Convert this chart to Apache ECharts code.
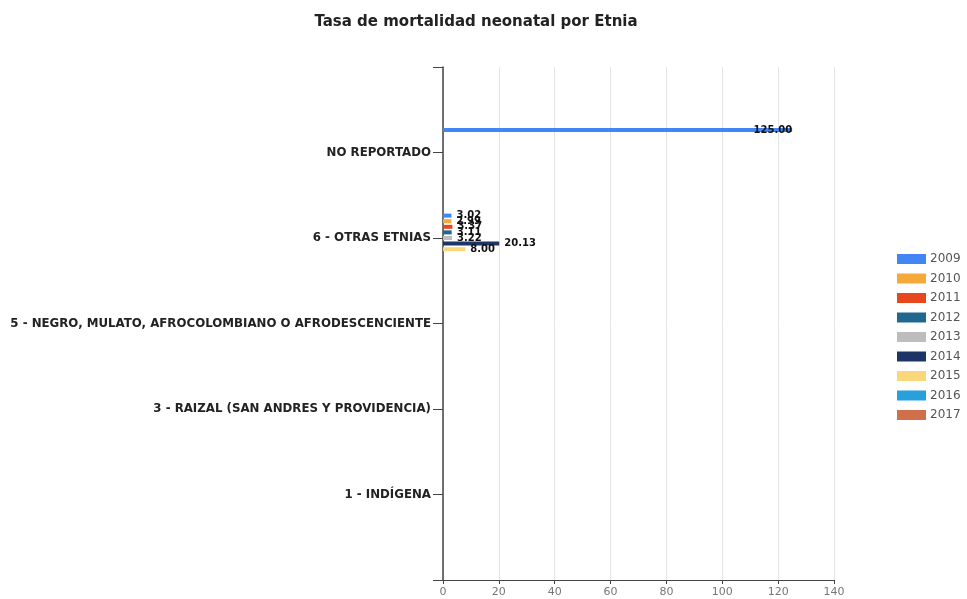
<!DOCTYPE html>
<html>
<head>
<meta charset="utf-8">
<script src="https://cdn.jsdelivr.net/npm/echarts@6/dist/echarts.min.js"></script>
<style>html,body{margin:0;padding:0;background:#fff}#c{width:967px;height:599px}</style>
</head>
<body>
<div id="c"></div>
<script>
const categories = ['', '1 - INDÍGENA', '3 - RAIZAL (SAN ANDRES Y PROVIDENCIA)', '5 - NEGRO, MULATO, AFROCOLOMBIANO O AFRODESCENCIENTE', '6 - OTRAS ETNIAS', 'NO REPORTADO', ''];
const years = ['2009', '2010', '2011', '2012', '2013', '2014', '2015', '2016', '2017'];
const colors = ['#4285f4', '#f4a938', '#e8461c', '#1f6890', '#bdbdbd', '#1c3466', '#f9d77a', '#28a0dc', '#d0704a'];
const xTicks = [0, 20, 40, 60, 80, 100, 120, 140];
// values per year, aligned with categories
const v2009 = [null, null, null, null, 3.02, 125.00, null];
const v2010 = [null, null, null, null, 2.99, null, null];
const v2011 = [null, null, null, null, 3.37, null, null];
const v2012 = [null, null, null, null, 3.11, null, null];
const v2013 = [null, null, null, null, 3.22, null, null];
const v2014 = [null, null, null, null, 20.13, null, null];
const v2015 = [null, null, null, null, 8.00, null, null];
const v2016 = [null, null, null, null, null, null, null];
const v2017 = [null, null, null, null, null, null, null];
const values = [v2009, v2010, v2011, v2012, v2013, v2014, v2015, v2016, v2017];

const chart = echarts.init(document.getElementById('c'), null, {renderer: 'canvas'});
const FONT = 'DejaVu Sans';
const series = years.map((y, i) => ({
  name: y,
  type: 'bar',
  data: values[i].map(v => v == null ? null : {
    value: v,
    label: {position: v > 100 ? 'insideRight' : 'right', distance: v > 100 ? 0 : 5}
  }),
  barWidth: 4,
  barGap: '40%',
  itemStyle: {color: colors[i]},
  label: {
    show: true,
    formatter: p => p.value == null ? '' : Number(p.value).toFixed(2),
    fontFamily: FONT, fontSize: 10, fontWeight: 'bold', color: '#111'
  }
}));

chart.setOption({
  animation: false,
  color: colors,
  title: {
    text: 'Tasa de mortalidad neonatal por Etnia',
    left: 471, top: 10, textAlign: 'center',
    textStyle: {fontFamily: FONT, fontSize: 15, fontWeight: 'bold', color: '#222'}
  },
  legend: {
    orient: 'vertical', left: 892, top: 248,
    data: years,
    itemWidth: 29, itemHeight: 10, itemGap: 7.5,
    icon: 'rect',
    textStyle: {fontFamily: FONT, fontSize: 12, color: '#555', padding: [0, 0, 0, -1]}
  },
  grid: {left: 443, right: 133, top: 67, bottom: 19, containLabel: false},
  xAxis: {
    type: 'value', min: 0, max: 140, interval: 20,
    axisLine: {show: true, lineStyle: {color: '#444'}},
    axisTick: {show: true, length: 4, lineStyle: {color: '#444'}},
    axisLabel: {fontFamily: FONT, fontSize: 11, color: '#777', margin: 7,
      formatter: v => xTicks.includes(v) ? String(v) : ''},
    splitLine: {show: true, lineStyle: {color: '#e4e4e4'}}
  },
  yAxis: {
    type: 'category', data: categories, boundaryGap: false,
    axisLine: {show: true, lineStyle: {color: '#444', width: 1.5}},
    axisTick: {show: true, length: 10, lineStyle: {color: '#444'}},
    axisLabel: {fontFamily: FONT, fontSize: 11.8, fontWeight: 'bold', color: '#222', margin: 12},
    splitLine: {show: false}
  },
  series: series
});
</script>
</body>
</html>
